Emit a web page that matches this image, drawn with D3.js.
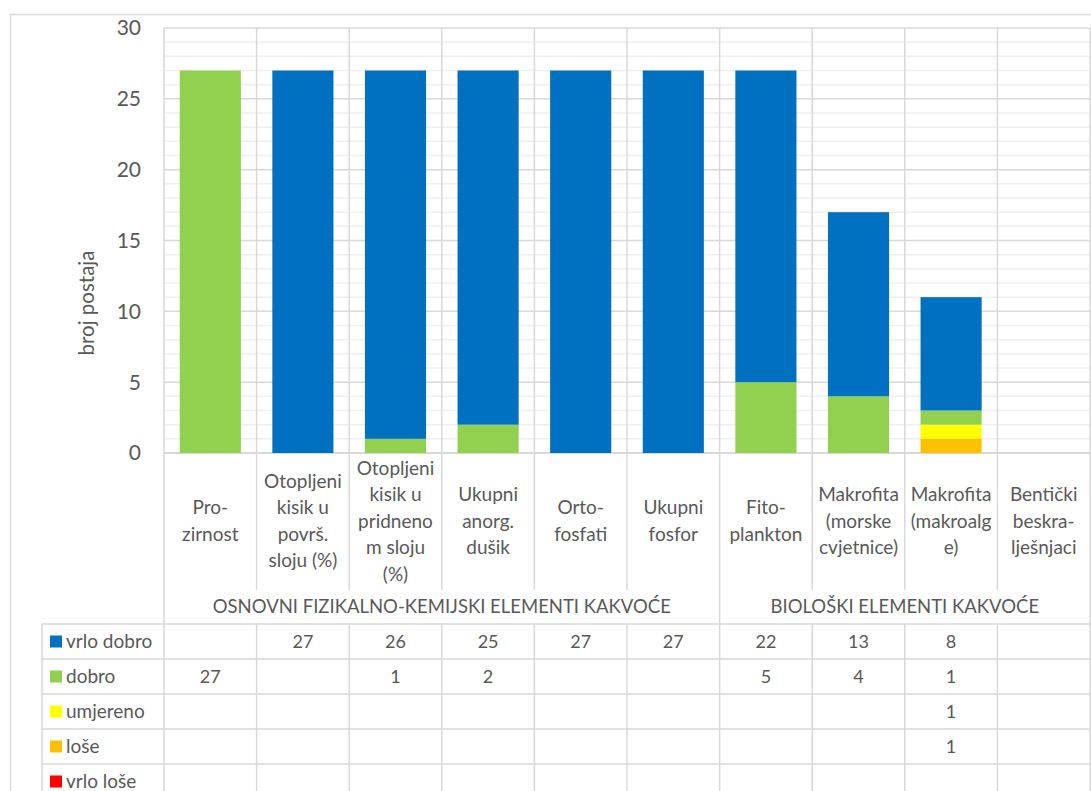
<!DOCTYPE html>
<html>
<head>
<meta charset="utf-8">
<script src="https://cdn.jsdelivr.net/npm/d3@7"></script>
<style>
  html, body { margin: 0; padding: 0; background: #fff; }
  svg { display: block; font-family: Lato, "Open Sans", sans-serif; }
</style>
</head>
<body>
<svg id="chart" width="1091" height="791"></svg>
<script>
// ---- data ----
const categories = [
  ["Pro-", "zirnost"],
  ["Otopljeni", "kisik u", "površ.", "sloju (%)"],
  ["Otopljeni", "kisik u", "pridneno", "m sloju", "(%)"],
  ["Ukupni", "anorg.", "dušik"],
  ["Orto-", "fosfati"],
  ["Ukupni", "fosfor"],
  ["Fito-", "plankton"],
  ["Makrofita", "(morske", "cvjetnice)"],
  ["Makrofita", "(makroalg", "e)"],
  ["Bentički", "beskra-", "lješnjaci"]
];
const groups = [
  { name: "OSNOVNI FIZIKALNO-KEMIJSKI ELEMENTI KAKVOĆE", from: 0, to: 5 },
  { name: "BIOLOŠKI ELEMENTI KAKVOĆE", from: 6, to: 9 }
];
const seriesNames = ["vrlo dobro", "dobro", "umjereno", "loše", "vrlo loše"];
const seriesColors = ["#0070C0", "#92D050", "#FFFF00", "#FFC000", "#FF0000"];
const vrloDobro = [null, 27, 26, 25, 27, 27, 22, 13, 8, null];
const dobro     = [27, null, 1, 2, null, null, 5, 4, 1, null];
const umjereno  = [null, null, null, null, null, null, null, null, 1, null];
const lose      = [null, null, null, null, null, null, null, null, 1, null];
const vrloLose  = [null, null, null, null, null, null, null, null, null, null];
const yTicks = [0, 5, 10, 15, 20, 25, 30];
const yTitle = "broj postaja";

const seriesValues = [vrloDobro, dobro, umjereno, lose, vrloLose];

// ---- layout ----
const svg = d3.select("#chart");
const plot = { left: 164, right: 1090, top: 28, bottom: 453 };
const catLabelBottom = 590;
const tableTop = 624;
const rowH = 35;
const tableLeft = 42;
const textColor = "#595959";
const gridColor = "#D9D9D9";
const minorColor = "#F0F0F0";

const idx = categories.map((d, i) => i);
const x = d3.scaleBand().domain(idx).range([plot.left, plot.right]).padding(0);
const xb = d3.scaleBand().domain(idx).range([plot.left, plot.right]).paddingInner(0.34).paddingOuter(0.17);
const y = d3.scaleLinear().domain([0, 30]).range([plot.bottom, plot.top]);

// outer border
svg.append("rect").attr("x", 10.5).attr("y", 14.5).attr("width", 1100).attr("height", 800)
  .attr("fill", "none").attr("stroke", gridColor).attr("stroke-width", 1.5);

// minor gridlines
svg.append("g").selectAll("line").data(d3.range(0, 31).filter(v => v % 5 !== 0)).join("line")
  .attr("x1", plot.left).attr("x2", plot.right)
  .attr("y1", d => y(d)).attr("y2", d => y(d))
  .attr("stroke", minorColor).attr("stroke-width", 1.5);

// major gridlines
svg.append("g").selectAll("line").data(yTicks).join("line")
  .attr("x1", plot.left).attr("x2", plot.right)
  .attr("y1", d => y(d)).attr("y2", d => y(d))
  .attr("stroke", gridColor).attr("stroke-width", d => d === 0 ? 2 : 1.5);

// vertical category lines in plot + label area
const boundaries = d3.range(0, categories.length + 1).map(i => i < categories.length ? x(i) : plot.right);
svg.append("g").selectAll("line").data(boundaries).join("line")
  .attr("x1", d => d).attr("x2", d => d)
  .attr("y1", plot.top)
  .attr("y2", (d, i) => (i === 0 || i === categories.length || i === groups[1].from) ? tableTop : catLabelBottom)
  .attr("stroke", gridColor).attr("stroke-width", 1.5);

// stacked bars
const stackKeys = [4, 3, 2, 1, 0]; // bottom: vrlo loše ... top: vrlo dobro
const rows = idx.map(i => { const o = { i }; seriesValues.forEach((s, k) => o[k] = s[i] || 0); return o; });
const stacked = d3.stack().keys(stackKeys)(rows);
svg.append("g").selectAll("g").data(stacked).join("g")
  .attr("fill", d => seriesColors[d.key])
  .selectAll("rect").data(d => d.filter(p => p[1] > p[0])).join("rect")
  .attr("x", d => xb(d.data.i)).attr("width", xb.bandwidth())
  .attr("y", d => y(d[1])).attr("height", d => y(d[0]) - y(d[1]));

// y tick labels
svg.append("g").selectAll("text").data(yTicks).join("text")
  .attr("x", 141).attr("y", d => y(d)).attr("dy", "0.35em")
  .attr("text-anchor", "end").attr("fill", textColor).style("font-size", "21px")
  .text(d => d);

// y title
svg.append("text").attr("transform", "translate(87,303) rotate(-90)")
  .attr("text-anchor", "middle").attr("dy", "0.35em").attr("fill", textColor)
  .style("font-size", "20.5px").text(yTitle);

// category labels
const lineH = 26.5, labelCenter = 521;
const cl = svg.append("g").selectAll("text").data(categories).join("text")
  .attr("text-anchor", "middle").attr("fill", textColor).style("font-size", "19px");
cl.each(function(lines, i) {
  const t = d3.select(this);
  const cx = x(i) + x.bandwidth() / 2;
  lines.forEach((ln, j) => {
    t.append("tspan").attr("x", cx)
      .attr("y", labelCenter + (j - (lines.length - 1) / 2) * lineH)
      .attr("dy", "0.35em").text(ln);
  });
});

// group labels
svg.append("g").selectAll("text").data(groups).join("text")
  .attr("x", d => (x(d.from) + x(d.to) + x.bandwidth()) / 2)
  .attr("y", 607).attr("dy", "0.35em")
  .attr("text-anchor", "middle").attr("fill", textColor).style("font-size", "18.5px")
  .text(d => d.name);

// data table
const tg = svg.append("g");
const nRows = seriesNames.length;
tg.selectAll("line.h").data(d3.range(0, nRows + 1)).join("line").attr("class", "h")
  .attr("x1", tableLeft).attr("x2", plot.right)
  .attr("y1", d => tableTop + d * rowH).attr("y2", d => tableTop + d * rowH)
  .attr("stroke", gridColor).attr("stroke-width", 1.5);
const tcols = [tableLeft].concat(boundaries);
tg.selectAll("line.v").data(tcols).join("line").attr("class", "v")
  .attr("x1", d => d).attr("x2", d => d)
  .attr("y1", tableTop).attr("y2", tableTop + nRows * rowH + 10)
  .attr("stroke", gridColor).attr("stroke-width", 1.5);
seriesNames.forEach((name, r) => {
  const cy = tableTop + r * rowH + rowH / 2;
  tg.append("rect").attr("x", 50).attr("y", cy - 6).attr("width", 12).attr("height", 12)
    .attr("fill", seriesColors[r]);
  tg.append("text").attr("x", 66).attr("y", cy).attr("dy", "0.35em")
    .attr("fill", textColor).style("font-size", "19px").text(name);
  tg.append("g").selectAll("text").data(seriesValues[r]).join("text")
    .attr("x", (d, i) => x(i) + x.bandwidth() / 2).attr("y", cy).attr("dy", "0.35em")
    .attr("text-anchor", "middle").attr("fill", textColor).style("font-size", "18px")
    .text(d => d == null ? "" : d);
});
</script>
</body>
</html>
